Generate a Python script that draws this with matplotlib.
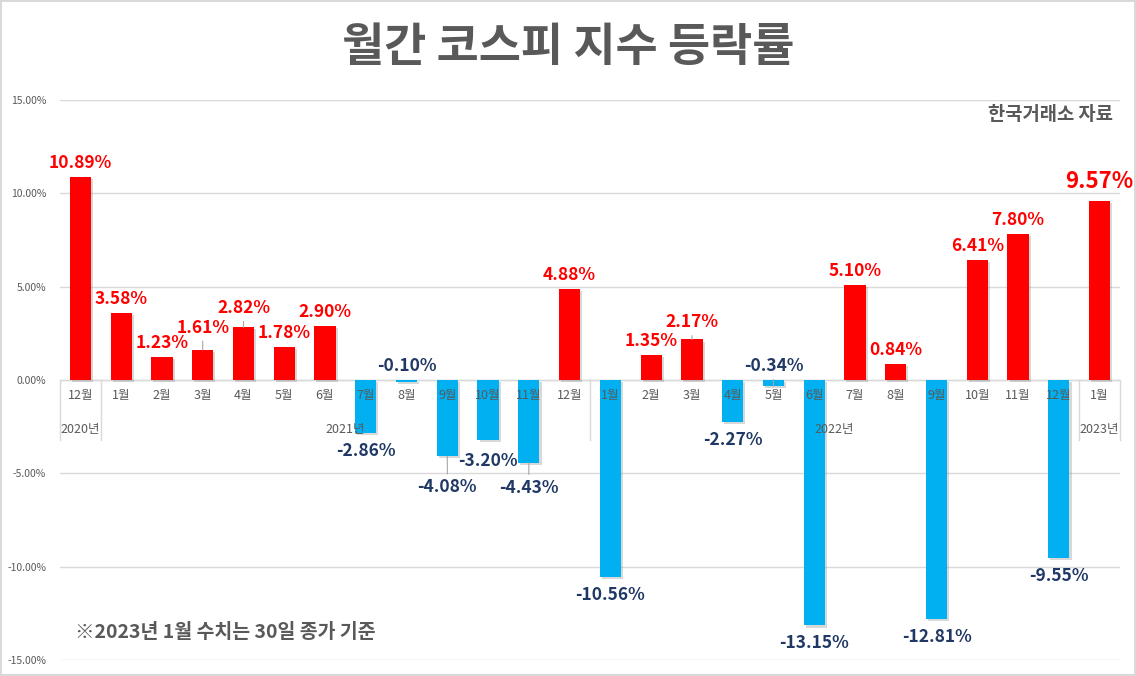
import matplotlib.pyplot as plt
import matplotlib.patheffects as pe
from matplotlib.ticker import FuncFormatter
import matplotlib.transforms as mtransforms

plt.rcParams['font.family'] = ['Noto Sans CJK KR', 'DejaVu Sans']

# monthly KOSPI change (%), Dec 2020 .. Jan 2023
months = ['12월', '1월', '2월', '3월', '4월', '5월', '6월', '7월', '8월', '9월', '10월', '11월', '12월',
          '1월', '2월', '3월', '4월', '5월', '6월', '7월', '8월', '9월', '10월', '11월', '12월', '1월']
years = ['2020년', '2021년', '2022년', '2023년']
year_sizes = [1, 12, 12, 1]
changes = [10.89, 3.58, 1.23, 1.61, 2.82, 1.78, 2.90, -2.86, -0.10, -4.08, -3.20, -4.43, 4.88,
           -10.56, 1.35, 2.17, -2.27, -0.34, -13.15, 5.10, 0.84, -12.81, 6.41, 7.80, -9.55, 9.57]

RED = '#FF0000'
BLUE = '#00B0F0'
NAVY = '#1F3864'
GRAY = '#595959'
GRID = '#D9D9D9'

fig = plt.figure(figsize=(11.36, 6.76), dpi=100)
fig.patch.set_edgecolor(GRID)
fig.patch.set_linewidth(1.5)
ax = fig.add_axes([60 / 1136, 16 / 676, 1060 / 1136, 560 / 676])

x = list(range(len(changes)))
colors = [RED if v >= 0 else BLUE for v in changes]
bars = ax.bar(x, changes, width=0.52, color=colors, zorder=3)
for b in bars:
    b.set_path_effects([pe.SimplePatchShadow(offset=(1.5, -1.5), shadow_rgbFace='#7f7f7f', alpha=0.3),
                        pe.Normal()])

ax.set_xlim(-0.5, len(changes) - 0.5)
ax.set_ylim(-15, 15)
ax.set_yticks([-15, -10, -5, 0, 5, 10, 15])
ax.yaxis.set_major_formatter(FuncFormatter(lambda v, p: f'{v:.2f}%'))
ax.tick_params(axis='y', length=0, labelsize=7.5, labelcolor=GRAY, pad=10)
ax.set_xticks([])
ax.grid(axis='y', color=GRID, lw=1, zorder=0)
for s in ax.spines.values():
    s.set_visible(False)
ax.axhline(0, color=GRID, lw=1, zorder=2)

# category axis: months and years
trans = mtransforms.blended_transform_factory(ax.transData, ax.transAxes)
y0 = 0.5  # zero line in axes fraction
px = 1 / 560
for i, m in enumerate(months):
    ax.text(i, y0 - 16 * px, m, transform=trans, ha='center', va='center', fontsize=9, color=GRAY)
start = 0
seps = [-0.5]
for yr, n in zip(years, year_sizes):
    ax.text(start + (n - 1) / 2, y0 - 49 * px, yr, transform=trans, ha='center', va='center',
            fontsize=9, color=GRAY)
    start += n
    seps.append(start - 0.5)
for s in seps:
    ax.plot([s, s], [y0, y0 - 60 * px], transform=trans, color=GRID, lw=1, clip_on=False)

# data labels (offset in pixels from bar end, positive = up)
offsets = {3: 22, 4: 19, 8: 14, 9: -31, 10: -21, 11: -25, 15: 17, 25: 20}
leaders = {3, 4, 9, 11, 15, 17}
for i, v in enumerate(changes):
    off = offsets.get(i, 14 if v >= 0 else -18)
    end = 0 if i == 8 else v
    if i == 17:
        off = 20
    size = 16 if i == len(changes) - 1 else 12.5
    kw = {}
    if i in leaders:
        kw['arrowprops'] = dict(arrowstyle='-', color='#A6A6A6', lw=0.8, shrinkA=1, shrinkB=0)
    ax.annotate(f'{v:.2f}%', xy=(i, end), xytext=(0, off), textcoords='offset pixels',
                ha='center', va='center', fontsize=size, fontweight='bold',
                color=RED if v >= 0 else NAVY, zorder=4, **kw)

fig.text(0.5, 1 - 48 / 676, '월간 코스피 지수 등락률', ha='center', va='center',
         fontsize=33, fontweight='bold', color=GRAY)
fig.text(1113 / 1136, 1 - 114 / 676, '한국거래소 자료', ha='right', va='center',
         fontsize=13.5, fontweight='bold', color=GRAY)
fig.text(75 / 1136, 1 - 633 / 676, '※2023년 1월 수치는 30일 종가 기준', ha='left', va='center',
         fontsize=14, fontweight='bold', color=GRAY)

fig.savefig('out.png', dpi=100)
